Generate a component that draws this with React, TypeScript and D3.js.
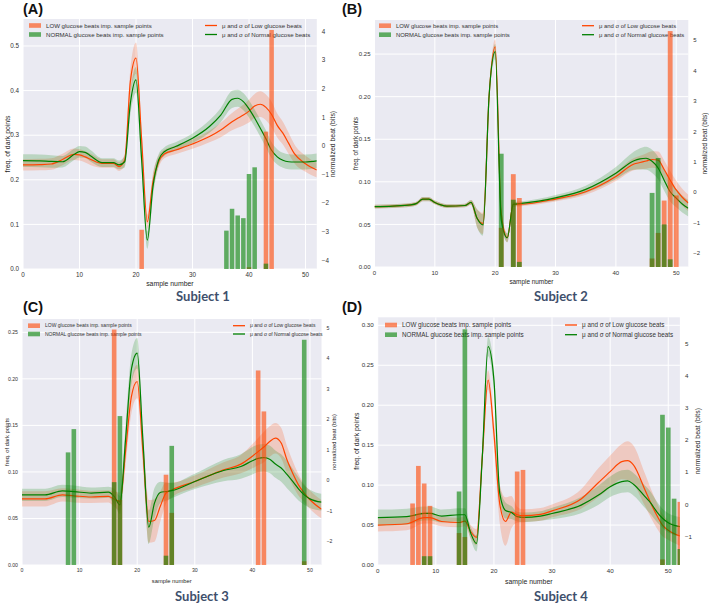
import React from "react";
import * as d3 from "d3";

// ---------- shared ----------
const sampleTicks = [0, 10, 20, 30, 40, 50];
const legendPatchLabels = ["LOW glucose beats imp. sample points", "NORMAL glucose beats imp. sample points"];
const legendLineLabels = ["\u03bc and \u03c3 of Low glucose beats", "\u03bc and \u03c3 of Normal glucose beats"];

// ---------- Subject 1 (A) ----------
const knotsA = [0,3,5,7,9,10,11,12,14,16,17,18,19,20,21,22,23,24,25,27,30,33,35,37,38,39,40,41,42,43,44,45,46,47,48,50,52];
const lowMeanA = [-0.66,-0.65,-0.63,-0.47,-0.29,-0.31,-0.38,-0.47,-0.61,-0.61,-0.72,-0.49,2.25,3.07,0.21,-2.65,-1.25,-0.55,-0.28,-0.14,0.07,0.33,0.56,0.85,0.97,1.08,1.22,1.4,1.46,1.35,1.1,0.72,0.45,0.1,-0.26,-0.62,-0.84];
const lowSdA = [0.2,0.2,0.2,0.2,0.2,0.2,0.2,0.2,0.15,0.15,0.15,0.2,0.45,0.55,0.35,0.25,0.3,0.2,0.15,0.15,0.17,0.2,0.25,0.3,0.33,0.36,0.4,0.42,0.45,0.45,0.45,0.42,0.4,0.37,0.33,0.28,0.26];
const normMeanA = [-0.51,-0.52,-0.54,-0.55,-0.3,-0.2,-0.22,-0.35,-0.58,-0.58,-0.66,-0.55,1.49,2.31,-0.49,-3.29,-1.42,-0.49,-0.2,-0.02,0.27,0.68,1.08,1.63,1.67,1.55,1.3,0.98,0.62,0.25,-0.15,-0.38,-0.5,-0.55,-0.56,-0.56,-0.52];
const normSdA = [0.22,0.22,0.22,0.2,0.2,0.2,0.2,0.2,0.15,0.15,0.15,0.2,0.4,0.45,0.3,0.3,0.35,0.2,0.15,0.15,0.17,0.22,0.25,0.3,0.3,0.3,0.3,0.3,0.3,0.3,0.28,0.27,0.26,0.26,0.26,0.26,0.26];
const lowBarXA = [21, 40, 43, 44];
const lowBarHA = [0.088, 0.004, 0.308, 0.536];
const normBarXA = [36, 37, 38, 39, 40, 41, 43];
const normBarHA = [0.086, 0.135, 0.12, 0.114, 0.213, 0.228, 0.012];
const leftTicksA = [0, 0.1, 0.2, 0.3, 0.4, 0.5];
const rightTicksA = [-4, -3, -2, -1, 0, 1, 2, 3, 4];

// ---------- Subject 2 (B) ----------
const knotsB = [0,3,6,7,8,9,10,11,12,15,16,17,18,19,20,21,22,23,24,30,35,40,43,44,45,46,47,48,49,50,51,52];
const lowMeanB = [-0.47,-0.45,-0.41,-0.36,-0.22,-0.22,-0.33,-0.41,-0.45,-0.43,-0.33,-0.85,-1.02,3.2,4.78,-0.69,-1.49,-0.39,-0.39,-0.22,0.02,0.52,0.93,0.98,1.03,1.08,1.06,0.75,0.4,0.08,-0.16,-0.35];
const lowSdB = [0.06,0.06,0.06,0.06,0.07,0.07,0.06,0.06,0.06,0.06,0.08,0.3,0.35,0.2,0.25,0.15,0.15,0.08,0.07,0.08,0.1,0.15,0.2,0.22,0.25,0.27,0.28,0.3,0.3,0.3,0.28,0.27];
const normMeanB = [-0.47,-0.45,-0.41,-0.36,-0.22,-0.22,-0.33,-0.41,-0.45,-0.43,-0.33,-0.85,-1.07,3.2,4.62,-0.9,-1.49,-0.39,-0.37,-0.18,0.1,0.63,1.04,1.1,1.12,1.02,0.8,0.4,0.02,-0.19,-0.38,-0.52];
const normSdB = [0.06,0.06,0.06,0.06,0.07,0.07,0.06,0.06,0.06,0.06,0.08,0.3,0.35,0.2,0.25,0.15,0.15,0.08,0.07,0.09,0.12,0.2,0.3,0.35,0.38,0.38,0.37,0.35,0.32,0.3,0.28,0.27];
const lowBarXB = [21, 23, 24, 46, 47, 48, 49, 50];
const lowBarHB = [0.046, 0.109, 0.081, 0.01, 0.04, 0.078, 0.277, 0.084];
const normBarXB = [21, 23, 24, 46, 47, 48, 49];
const normBarHB = [0.133, 0.079, 0.006, 0.087, 0.128, 0.05, 0.009];
const leftTicksB = [0, 0.05, 0.1, 0.15, 0.2, 0.25];
const rightTicksB = [-2, -1, 0, 1, 2, 3, 4, 5];

// ---------- Subject 3 (C) ----------
const knotsC = [0,4,7,9,12,15,16,17,18,19,20,21,22,23,24,25,26,30,35,38,40,41,42,43,44,45,46,47,48,49,50,52];
const lowMeanC = [-0.6,-0.6,-0.47,-0.5,-0.54,-0.52,-0.61,-0.69,1.0,2.76,3.25,0.95,-1.34,-1.31,-0.85,-0.41,-0.31,-0.03,0.35,0.54,0.8,0.95,1.1,1.28,1.39,1.23,0.68,0.24,-0.14,-0.41,-0.63,-0.94];
const lowSdC = [0.25,0.25,0.22,0.22,0.2,0.2,0.25,0.3,0.5,0.55,0.55,0.5,0.7,0.7,0.5,0.35,0.25,0.2,0.25,0.3,0.4,0.45,0.5,0.5,0.5,0.5,0.45,0.4,0.35,0.3,0.3,0.3];
const normMeanC = [-0.47,-0.47,-0.34,-0.36,-0.41,-0.38,-0.52,-0.8,1.4,3.66,4.18,1.3,-1.53,-0.74,-0.39,-0.36,-0.33,-0.03,0.33,0.46,0.65,0.73,0.75,0.7,0.54,0.41,0.2,-0.03,-0.27,-0.47,-0.6,-0.71];
const normSdC = [0.2,0.2,0.2,0.2,0.18,0.18,0.25,0.3,0.45,0.5,0.5,0.45,0.55,0.5,0.35,0.3,0.25,0.25,0.35,0.4,0.45,0.45,0.45,0.45,0.45,0.45,0.45,0.42,0.38,0.32,0.3,0.28];
const lowBarXC = [16, 17, 25, 26, 41, 42, 49];
const lowBarHC = [0.253, 0.07, 0.097, 0.056, 0.209, 0.165, 0.004];
const normBarXC = [8, 9, 16, 17, 25, 26, 49];
const normBarHC = [0.121, 0.146, 0.089, 0.16, 0.01, 0.128, 0.242];
const leftTicksC = [0, 0.05, 0.1, 0.15, 0.2, 0.25];
const rightTicksC = [-2, -1, 0, 1, 2, 3, 4, 5];

// ---------- Subject 4 (D) ----------
const knotsD = [0,5,8,9,11,14,15,16,17,18,19,20,21,22,23,24,25,28,30,35,38,40,42,43,44,46,47,48,49,50,52];
const lowMeanD = [-0.64,-0.6,-0.41,-0.41,-0.53,-0.56,-0.52,-0.84,-1.02,1.48,3.86,2.21,0.02,-0.53,-0.24,-0.32,-0.35,-0.31,-0.2,0.17,0.68,1.02,1.33,1.36,1.23,0.45,0.04,-0.33,-0.64,-0.8,-0.98];
const lowSdD = [0.2,0.2,0.18,0.18,0.15,0.15,0.15,0.2,0.25,0.3,0.3,0.4,0.6,0.75,0.5,0.25,0.2,0.2,0.2,0.3,0.45,0.5,0.55,0.6,0.6,0.5,0.45,0.4,0.35,0.3,0.3];
const normMeanD = [-0.41,-0.38,-0.28,-0.28,-0.36,-0.32,-0.32,-0.89,-1.21,1.48,4.9,3.86,0.35,-0.19,-0.25,-0.38,-0.4,-0.36,-0.28,-0.02,0.29,0.55,0.71,0.73,0.63,0.24,0.04,-0.22,-0.43,-0.57,-0.69];
const normSdD = [0.25,0.25,0.22,0.22,0.2,0.2,0.2,0.2,0.25,0.3,0.3,0.35,0.25,0.25,0.2,0.15,0.15,0.15,0.18,0.25,0.3,0.32,0.35,0.35,0.35,0.35,0.35,0.32,0.3,0.3,0.3];
const lowBarXD = [6, 7, 8, 9, 14, 15, 24, 25, 49, 52];
const lowBarHD = [0.077, 0.124, 0.102, 0.074, 0.04, 0.035, 0.117, 0.119, 0.007, 0.079];
const normBarXD = [8, 9, 14, 15, 49, 50, 51, 52];
const normBarHD = [0.011, 0.011, 0.092, 0.295, 0.188, 0.172, 0.083, 0.02];
const leftTicksD = [0, 0.05, 0.1, 0.15, 0.2, 0.25, 0.3];
const rightTicksD = [-1, 0, 1, 2, 3, 4, 5];

const LOW = "#ff4500";
const NORM = "#008000";
const BG = "#eaeaf2";
const FONT = "'Liberation Sans', Arial, sans-serif";

type Cfg = {
  id: string; label: string; subject: string;
  x0: number; x1: number; y0: number; y1: number;
  leftMax: number; rightMin: number; rightMax: number;
  leftTicks: number[]; leftFmt: string; rightTicks: number[];
  knots: number[]; lowMean: number[]; lowSd: number[]; normMean: number[]; normSd: number[];
  lowBarX: number[]; lowBarH: number[]; normBarX: number[]; normBarH: number[];
  tickFs: number; labFs: number; legFs: number;
  labelX: number; labelY: number; subjX: number; subjY: number;
  leftLabelX: number; rightLabelX: number; xLabelY: number;
  legLX: number; legRX: number; legY: number; legDy: number;
};

const panels: Cfg[] = [
  {
    id: "A", label: "(A)", subject: "Subject 1",
    x0: 23, x1: 316.8, y0: 19, y1: 269, leftMax: 0.5605, rightMin: -4.3, rightMax: 4.44,
    leftTicks: leftTicksA, leftFmt: ".1f", rightTicks: rightTicksA,
    knots: knotsA, lowMean: lowMeanA, lowSd: lowSdA, normMean: normMeanA, normSd: normSdA,
    lowBarX: lowBarXA, lowBarH: lowBarHA, normBarX: normBarXA, normBarH: normBarHA,
    tickFs: 6.3, labFs: 6.9, legFs: 6.1,
    labelX: 23, labelY: 14, subjX: 203, subjY: 301,
    leftLabelX: 8, rightLabelX: 333, xLabelY: 286,
    legLX: 29, legRX: 205, legY: 25.5, legDy: 9,
  },
  {
    id: "B", label: "(B)", subject: "Subject 2",
    x0: 374.5, x1: 688.3, y0: 20, y1: 267, leftMax: 0.29, rightMin: -2.45, rightMax: 5.66,
    leftTicks: leftTicksB, leftFmt: ".2f", rightTicks: rightTicksB,
    knots: knotsB, lowMean: lowMeanB, lowSd: lowSdB, normMean: normMeanB, normSd: normSdB,
    lowBarX: lowBarXB, lowBarH: lowBarHB, normBarX: normBarXB, normBarH: normBarHB,
    tickFs: 6, labFs: 6.4, legFs: 5.9,
    labelX: 342, labelY: 14, subjX: 561, subjY: 301,
    leftLabelX: 356, rightLabelX: 705, xLabelY: 284,
    legLX: 379, legRX: 582, legY: 25.7, legDy: 9,
  },
  {
    id: "C", label: "(C)", subject: "Subject 3",
    x0: 22, x1: 321.5, y0: 319, y1: 565, leftMax: 0.2643, rightMin: -2.77, rightMax: 5.3,
    leftTicks: leftTicksC, leftFmt: ".2f", rightTicks: rightTicksC,
    knots: knotsC, lowMean: lowMeanC, lowSd: lowSdC, normMean: normMeanC, normSd: normSdC,
    lowBarX: lowBarXC, lowBarH: lowBarHC, normBarX: normBarXC, normBarH: normBarHC,
    tickFs: 5.2, labFs: 5.8, legFs: 5.0,
    labelX: 23, labelY: 312, subjX: 202, subjY: 601,
    leftLabelX: 7, rightLabelX: 334, xLabelY: 583,
    legLX: 28, legRX: 233, legY: 325.7, legDy: 8.3,
  },
  {
    id: "D", label: "(D)", subject: "Subject 4",
    x0: 377.7, x1: 679.9, y0: 317.3, y1: 565, leftMax: 0.31, rightMin: -1.88, rightMax: 5.81,
    leftTicks: leftTicksD, leftFmt: ".2f", rightTicks: rightTicksD,
    knots: knotsD, lowMean: lowMeanD, lowSd: lowSdD, normMean: normMeanD, normSd: normSdD,
    lowBarX: lowBarXD, lowBarH: lowBarHD, normBarX: normBarXD, normBarH: normBarHD,
    tickFs: 6.2, labFs: 6.9, legFs: 6.3,
    labelX: 342, labelY: 312, subjX: 561, subjY: 601,
    leftLabelX: 357, rightLabelX: 698, xLabelY: 584,
    legLX: 385, legRX: 565, legY: 325, legDy: 9.7,
  },
];

function Panel({ c }: { c: Cfg }) {
  const x = d3.scaleLinear().domain([0, 52]).range([c.x0, c.x1]);
  const yL = d3.scaleLinear().domain([0, c.leftMax]).range([c.y1, c.y0]);
  const yR = d3.scaleLinear().domain([c.rightMin, c.rightMax]).range([c.y1, c.y0]);
  const fmtL = d3.format(c.leftFmt);
  const fmtR = (v: number) => (v < 0 ? "\u2212" + Math.abs(v) : String(v));
  const idx = c.knots.map((_, i) => i);

  const band = (m: number[], s: number[]) =>
    d3.area<number>().x((i) => x(c.knots[i])).y0((i) => yR(m[i] - s[i])).y1((i) => yR(m[i] + s[i])).curve(d3.curveMonotoneX)(idx) || "";
  const line = (m: number[]) =>
    d3.line<number>().x((i) => x(c.knots[i])).y((i) => yR(m[i])).curve(d3.curveMonotoneX)(idx) || "";

  const bw = x(0.8) - x(0);
  const clipId = "clip" + c.id;
  const cy = (c.y0 + c.y1) / 2;

  return (
    <g>
      <defs>
        <clipPath id={clipId}>
          <rect x={c.x0} y={c.y0} width={c.x1 - c.x0} height={c.y1 - c.y0} />
        </clipPath>
      </defs>
      <rect x={c.x0} y={c.y0} width={c.x1 - c.x0} height={c.y1 - c.y0} fill={BG} />
      {sampleTicks.map((t) => (
        <line key={"gx" + t} x1={x(t)} x2={x(t)} y1={c.y0} y2={c.y1} stroke="#fff" strokeWidth={1} />
      ))}
      {c.leftTicks.map((t) => (
        <line key={"gy" + t} x1={c.x0} x2={c.x1} y1={yL(t)} y2={yL(t)} stroke="#fff" strokeWidth={1} />
      ))}
      <g clipPath={`url(#${clipId})`}>
        <path d={band(c.lowMean, c.lowSd)} fill={LOW} fillOpacity={0.2} />
        <path d={band(c.normMean, c.normSd)} fill={NORM} fillOpacity={0.2} />
        <path d={line(c.lowMean)} fill="none" stroke={LOW} strokeWidth={1.2} />
        <path d={line(c.normMean)} fill="none" stroke={NORM} strokeWidth={1.2} />
      </g>
      {/* legends */}
      <g fontFamily={FONT} fontSize={c.legFs} fill="#333">
        <rect x={c.legLX} y={c.legY - 2.3} width={12} height={4.6} fill={LOW} fillOpacity={0.6} />
        <rect x={c.legLX} y={c.legY + c.legDy - 2.3} width={12} height={4.6} fill={NORM} fillOpacity={0.6} />
        <text x={c.legLX + 17} y={c.legY + c.legFs * 0.35}>{legendPatchLabels[0]}</text>
        <text x={c.legLX + 17} y={c.legY + c.legDy + c.legFs * 0.35}>{legendPatchLabels[1]}</text>
        <line x1={c.legRX} x2={c.legRX + 12} y1={c.legY} y2={c.legY} stroke={LOW} strokeWidth={1.3} />
        <line x1={c.legRX} x2={c.legRX + 12} y1={c.legY + c.legDy} y2={c.legY + c.legDy} stroke={NORM} strokeWidth={1.3} />
        <text x={c.legRX + 17} y={c.legY + c.legFs * 0.35}>{legendLineLabels[0]}</text>
        <text x={c.legRX + 17} y={c.legY + c.legDy + c.legFs * 0.35}>{legendLineLabels[1]}</text>
      </g>
      {/* bars */}
      <g clipPath={`url(#${clipId})`}>
        {c.lowBarX.map((b, i) => (
          <rect key={"lb" + i} x={x(b - 0.4)} width={bw} y={yL(c.lowBarH[i])} height={yL(0) - yL(c.lowBarH[i])} fill={LOW} fillOpacity={0.6} />
        ))}
        {c.normBarX.map((b, i) => (
          <rect key={"nb" + i} x={x(b - 0.4)} width={bw} y={yL(c.normBarH[i])} height={yL(0) - yL(c.normBarH[i])} fill={NORM} fillOpacity={0.6} />
        ))}
      </g>
      {/* ticks */}
      <g fontFamily={FONT} fontSize={c.tickFs} fill="#333">
        {sampleTicks.map((t) => (
          <text key={"tx" + t} x={x(t)} y={c.y1 + 3 + c.tickFs * 0.75} textAnchor="middle">{t}</text>
        ))}
        {c.leftTicks.map((t) => (
          <text key={"tl" + t} x={c.x0 - 4} y={yL(t) + c.tickFs * 0.35} textAnchor="end">{fmtL(t)}</text>
        ))}
        {c.rightTicks.map((t) => (
          <text key={"tr" + t} x={c.x1 + 5} y={yR(t) + c.tickFs * 0.35} textAnchor="start">{fmtR(t)}</text>
        ))}
      </g>
      <g fontFamily={FONT} fontSize={c.labFs} fill="#262626">
        <text x={(c.x0 + c.x1) / 2} y={c.xLabelY} textAnchor="middle">sample number</text>
        <text transform={`translate(${c.leftLabelX},${cy}) rotate(-90)`} textAnchor="middle" dominantBaseline="middle">freq. of dark points</text>
        <text transform={`translate(${c.rightLabelX},${cy}) rotate(-90)`} textAnchor="middle" dominantBaseline="middle">normalized beat (bits)</text>
      </g>
      <text x={c.labelX} y={c.labelY} fontFamily={FONT} fontWeight="bold" fontSize={14.5} fill="#111">{c.label}</text>
      <text x={c.subjX} y={c.subjY} textAnchor="middle" fontFamily="Lato, 'Open Sans', sans-serif" fontWeight="bold" fontSize={13} fill="#3e4f6c">{c.subject}</text>
    </g>
  );
}

export default function App() {
  return (
    <svg width={709} height={606} style={{ position: "absolute", left: 0, top: 0, background: "#fff" }}>
      <rect width={709} height={606} fill="#fff" />
      {panels.map((p) => (
        <Panel key={p.id} c={p} />
      ))}
    </svg>
  );
}
